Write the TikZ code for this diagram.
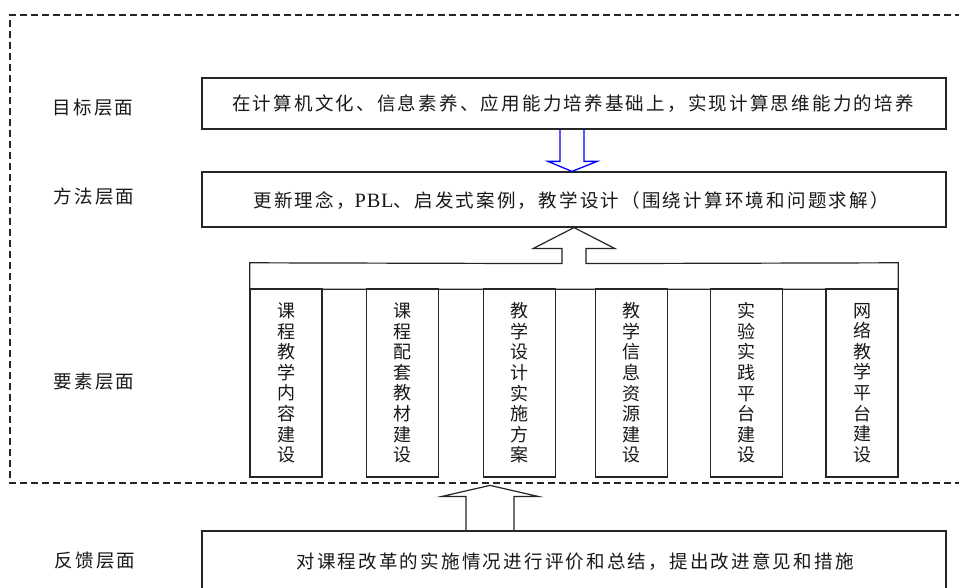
\documentclass[tikz,border=0pt]{standalone}
\usepackage{fontspec}
\setmainfont[LetterSpace=12]{Noto Sans CJK SC}
\newfontfamily\latinserif[LetterSpace=4,Scale=1.1]{Liberation Serif}
\usetikzlibrary{calc}
\tikzset{
  boxline/.style={draw=black!85, line width=1.2pt},
  box/.style={boxline, minimum width=744pt, inner sep=0pt},
  txt/.style={font=\fontsize{18.5pt}{20.6pt}\selectfont, text=black!90, inner sep=0pt},
  colbox/.style={boxline, minimum width=72pt, minimum height=188pt, inner sep=0pt, align=center,
    font=\fontsize{18pt}{20.6pt}\selectfont, text=black!90},
  frame/.style={draw=black!85, line width=1.2pt, dash pattern=on 7pt off 4pt},
  bluearrow/.style={draw=blue, line width=1.3pt, line join=miter},
  blackarrow/.style={boxline, line join=miter}
}
\begin{document}
\begin{tikzpicture}[x=1pt,y=-1pt]
\useasboundingbox (0,0) rectangle (959,588);
\fill[white] (0,0) rectangle (959,588);
% dashed frame (open on the right)
\draw[frame] (962,15) -- (10,15) -- (10,483) -- (962,483);
% level labels
\node[txt] (l1) at (93,108) {目标层面};
\node[txt] (l2) at (94,196) {方法层面};
\node[txt] (l3) at (94,382) {要素层面};
\node[txt] (l4) at (95,561) {反馈层面};
% goal box
\node[box, minimum height=51pt] (top) at (574,103.5) {};
\node[txt] (toptxt) at (573,104) {在计算机文化、信息素养、应用能力培养基础上，实现计算思维能力的培养};
% method box
\node[box, minimum height=55pt] (mid) at (574,199.5) {};
\node[txt] (midtxt) at (571,201) {更新理念，{\latinserif PBL}、启发式案例，教学设计（围绕计算环境和问题求解）};
% blue hollow arrow top -> mid
\draw[bluearrow] ($(top.south)+(-14,0)$) -- ($(mid.north)+(-14,-10)$) -- ($(mid.north)+(-26,-10)$)
  -- ($(mid.north)+(-2,0)$) -- ($(mid.north)+(23,-10)$) -- ($(mid.north)+(10,-10)$) -- ($(top.south)+(10,0)$);
% element bar with arrow up to method box
\node[minimum width=648pt, minimum height=26pt, inner sep=0pt] (bar) at (574,276) {};
\draw[blackarrow] ($(mid.south)+(-12,36)$) -- ($(mid.south)+(-12,21)$) -- ($(mid.south)+(-41,21)$)
  -- (mid.south) -- ($(mid.south)+(41,21)$) -- ($(mid.south)+(12,21)$) -- ($(mid.south)+(12,36)$)
  -- (bar.north east) -- (bar.south east) -- (bar.south west) -- (bar.north west) -- cycle;
% element columns
\node[colbox] (c1) at (286,383) {课\\程\\教\\学\\内\\容\\建\\设};
\node[colbox] (c2) at (402.5,383) {课\\程\\配\\套\\教\\材\\建\\设};
\node[colbox] (c3) at (519.5,383) {教\\学\\设\\计\\实\\施\\方\\案};
\node[colbox] (c4) at (631.5,383) {教\\学\\信\\息\\资\\源\\建\\设};
\node[colbox] (c5) at (746.5,383) {实\\验\\实\\践\\平\\台\\建\\设};
\node[colbox] (c6) at (862,383) {网\\络\\教\\学\\平\\台\\建\\设};
% feedback box (runs off the bottom edge)
\node[box, minimum height=70pt] (fb) at (574,566) {};
\node[txt] (fbtxt) at (575,562) {对课程改革的实施情况进行评价和总结，提出改进意见和措施};
% hollow arrow from feedback up
\draw[blackarrow] ($(fb.north)+(-108,0)$) -- ($(fb.north)+(-108,-34)$) -- ($(fb.north)+(-132,-34)$)
  -- ($(fb.north)+(-84,-45)$) -- ($(fb.north)+(-36,-34)$) -- ($(fb.north)+(-60,-34)$) -- ($(fb.north)+(-60,0)$);
\end{tikzpicture}
\end{document}
